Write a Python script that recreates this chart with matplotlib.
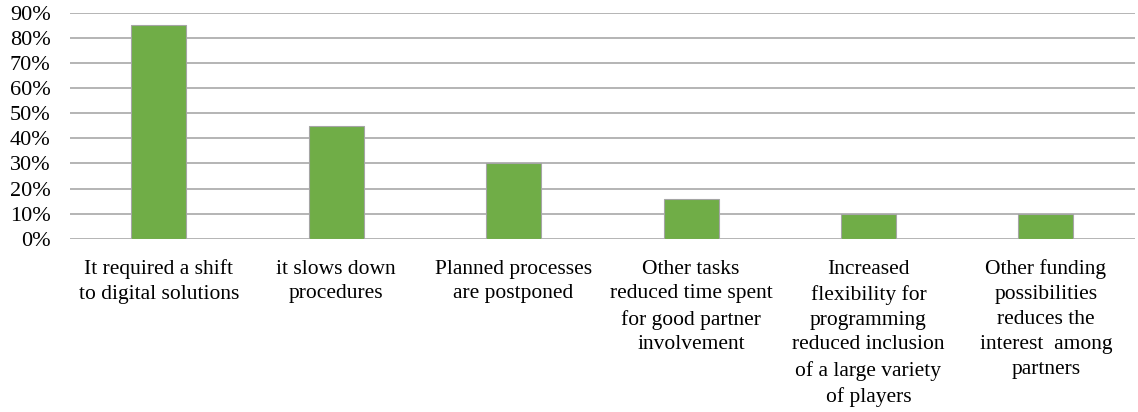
import matplotlib
matplotlib.use('Agg')
import matplotlib.pyplot as plt
from matplotlib.ticker import PercentFormatter

categories = [
    "It required a shift\nto digital solutions",
    "it slows down\nprocedures",
    "Planned processes\nare postponed",
    "Other tasks\nreduced time spent\nfor good partner\ninvolvement",
    "Increased\nflexibility for\nprogramming\nreduced inclusion\nof a large variety\nof players",
    "Other funding\npossibilities\nreduces the\ninterest  among\npartners",
]
values = [85, 45, 30, 16, 10, 10]
y_ticks = [0, 10, 20, 30, 40, 50, 60, 70, 80, 90]

plt.rcParams['font.family'] = ['Liberation Serif', 'DejaVu Serif']

fig = plt.figure(figsize=(11.38, 4.12), dpi=100)
ax = fig.add_axes([0.0615, 0.4206, 0.9355, 0.5484])

x = range(len(categories))
ax.bar(x, values, width=0.31, color='#70AD47', edgecolor='#A5A5A5', linewidth=0.8, zorder=3)

ax.set_ylim(0, 90)
ax.set_xlim(-0.5, len(categories) - 0.5)
ax.set_yticks(y_ticks)
ax.yaxis.set_major_formatter(PercentFormatter(decimals=0))
ax.grid(axis='y', color='#B4B4B4', linewidth=1.4, zorder=0)
ax.set_xticks(list(x))
ax.set_xticklabels(categories, fontsize=15.5, linespacing=1.42, va='top')
ax.tick_params(axis='y', labelsize=16, length=0, pad=14)
ax.tick_params(axis='x', length=0, pad=15)
for s in ax.spines.values():
    s.set_visible(False)

fig.savefig('out.png', dpi=100)
